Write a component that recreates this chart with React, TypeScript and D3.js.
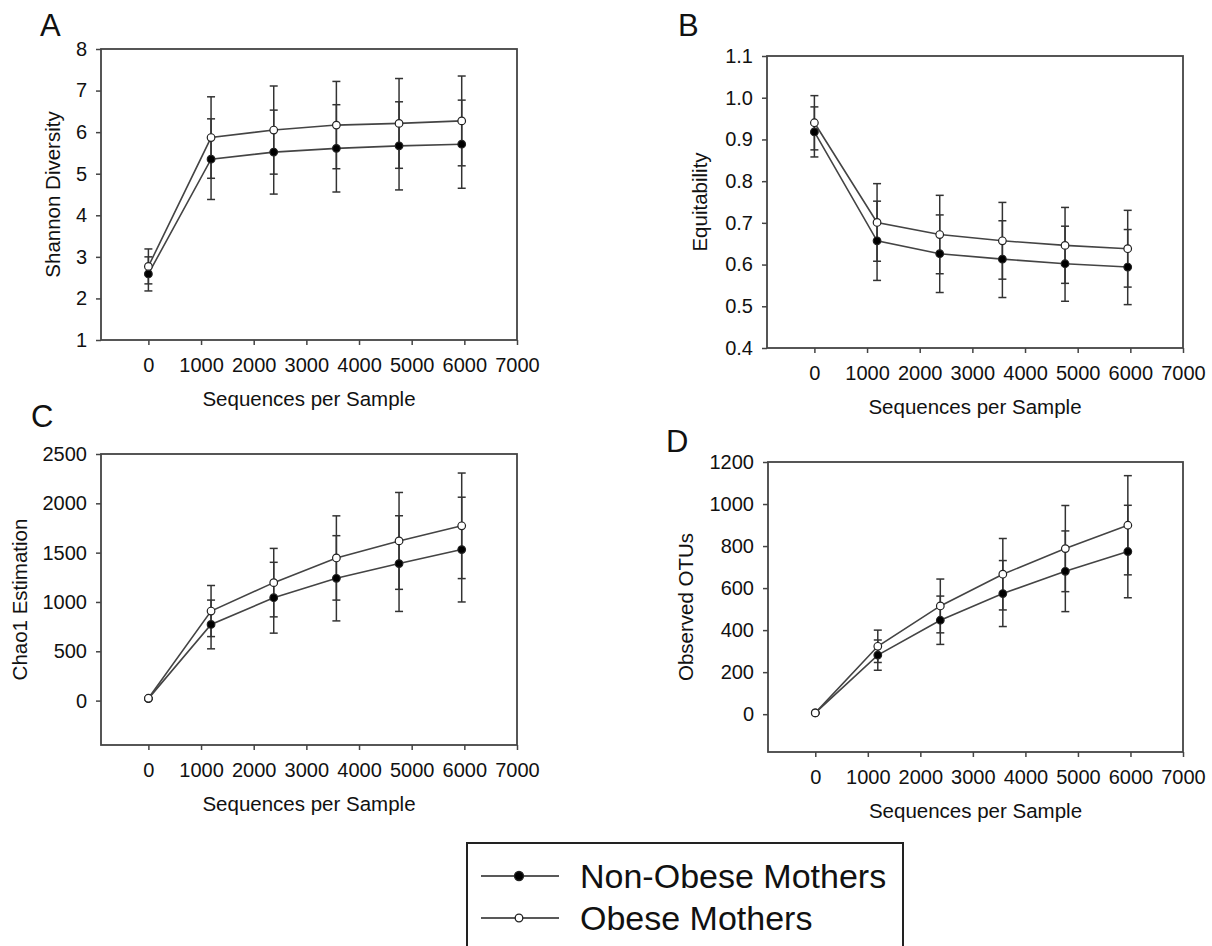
import * as d3 from 'd3';
import React, { useEffect, useRef } from 'react';

// sequences per sample (x positions of the rarefaction points)
const seqs = [0, 1190, 2380, 3570, 4760, 5950];
const xTicks = [0, 1000, 2000, 3000, 4000, 5000, 6000, 7000];

// A - Shannon diversity
const shannonObese = [2.77, 5.87, 6.05, 6.17, 6.21, 6.27];
const shannonObeseErr = [0.42, 0.98, 1.06, 1.05, 1.08, 1.08];
const shannonNonObese = [2.59, 5.35, 5.52, 5.61, 5.67, 5.71];
const shannonNonObeseErr = [0.41, 0.97, 1.01, 1.05, 1.06, 1.06];
const shannonTicks = [1, 2, 3, 4, 5, 6, 7, 8];

// B - Equitability
const equitObese = [0.94, 0.701, 0.672, 0.657, 0.646, 0.638];
const equitObeseErr = [0.065, 0.093, 0.094, 0.092, 0.091, 0.092];
const equitNonObese = [0.918, 0.657, 0.626, 0.613, 0.602, 0.594];
const equitNonObeseErr = [0.06, 0.095, 0.093, 0.092, 0.09, 0.09];
const equitTicks = [0.4, 0.5, 0.6, 0.7, 0.8, 0.9, 1.0, 1.1];

// C - Chao1
const chaoObese = [24, 908, 1196, 1446, 1619, 1772];
const chaoObeseErr = [6, 259, 347, 427, 491, 535];
const chaoNonObese = [20, 772, 1043, 1240, 1389, 1531];
const chaoNonObeseErr = [5, 247, 359, 432, 485, 531];
const chaoTicks = [0, 500, 1000, 1500, 2000, 2500];

// D - Observed OTUs
const otuObese = [6, 323, 515, 666, 788, 899];
const otuObeseErr = [2, 77, 128, 170, 205, 236];
const otuNonObese = [6, 281, 447, 574, 680, 774];
const otuNonObeseErr = [2, 72, 115, 157, 192, 220];
const otuTicks = [0, 200, 400, 600, 800, 1000, 1200];

const seriesNames = ['Non-Obese Mothers', 'Obese Mothers'];

const width = 1212;
const height = 946;
const font = "'Liberation Sans', Arial, sans-serif";
const lineColor = '#444';
const barColor = '#333';

interface Panel {
  letter: string;
  title: string;
  yDomain: [number, number];
  yTicks: number[];
  fmt: (d: number) => string;
  box: { left: number; right: number; top: number; bottom: number };
  letterPos: [number, number];
  titleX: number;
  obese: number[];
  obeseErr: number[];
  non: number[];
  nonErr: number[];
}

const panels: Panel[] = [
  {
    letter: 'A', title: 'Shannon Diversity', yDomain: [1, 8], yTicks: shannonTicks, fmt: d3.format('d'),
    box: { left: 101, right: 517, top: 49, bottom: 340 }, letterPos: [40, 36], titleX: 53,
    obese: shannonObese, obeseErr: shannonObeseErr, non: shannonNonObese, nonErr: shannonNonObeseErr,
  },
  {
    letter: 'B', title: 'Equitability', yDomain: [0.4, 1.1], yTicks: equitTicks, fmt: d3.format('.1f'),
    box: { left: 767, right: 1183, top: 56, bottom: 348 }, letterPos: [678, 36], titleX: 700,
    obese: equitObese, obeseErr: equitObeseErr, non: equitNonObese, nonErr: equitNonObeseErr,
  },
  {
    letter: 'C', title: 'Chao1 Estimation', yDomain: [-450, 2500], yTicks: chaoTicks, fmt: d3.format('d'),
    box: { left: 101, right: 517, top: 454, bottom: 745 }, letterPos: [31, 427], titleX: 20,
    obese: chaoObese, obeseErr: chaoObeseErr, non: chaoNonObese, nonErr: chaoNonObeseErr,
  },
  {
    letter: 'D', title: 'Observed OTUs', yDomain: [-180, 1200], yTicks: otuTicks, fmt: d3.format('d'),
    box: { left: 768, right: 1183, top: 462, bottom: 752 }, letterPos: [666, 452], titleX: 686,
    obese: otuObese, obeseErr: otuObeseErr, non: otuNonObese, nonErr: otuNonObeseErr,
  },
];

const App: React.FC = () => {
  const ref = useRef<SVGSVGElement>(null);

  useEffect(() => {
    const svg = d3.select(ref.current);
    svg.selectAll('*').remove();

    panels.forEach((p) => {
      const { left, right, top, bottom } = p.box;
      const x = d3.scaleLinear().domain([-900, 7000]).range([left, right]);
      const y = d3.scaleLinear().domain(p.yDomain).range([bottom, top]);
      const g = svg.append('g');

      g.append('rect')
        .attr('x', left).attr('y', top)
        .attr('width', right - left).attr('height', bottom - top)
        .attr('fill', 'none').attr('stroke', lineColor).attr('stroke-width', 1.8);

      const xAxis = g.append('g')
        .attr('transform', `translate(0,${bottom})`)
        .call(d3.axisBottom(x).tickValues(xTicks).tickSize(5).tickPadding(13).tickFormat(d3.format('d')));
      const yAxis = g.append('g')
        .attr('transform', `translate(${left},0)`)
        .call(d3.axisLeft(y).tickValues(p.yTicks).tickSize(5).tickPadding(9).tickFormat(p.fmt as any));
      [xAxis, yAxis].forEach((a) => {
        a.select('.domain').remove();
        a.selectAll('.tick line').attr('stroke', lineColor).attr('stroke-width', 1.5);
        a.selectAll('.tick text').attr('font-family', font).attr('font-size', 20).attr('fill', '#111');
      });

      g.append('text')
        .attr('x', (left + right) / 2).attr('y', bottom + 66)
        .attr('text-anchor', 'middle').attr('font-family', font).attr('font-size', 20.5).attr('fill', '#111')
        .text('Sequences per Sample');
      g.append('text')
        .attr('transform', `translate(${p.titleX},${(top + bottom) / 2}) rotate(-90)`)
        .attr('dy', '0.36em')
        .attr('text-anchor', 'middle').attr('font-family', font).attr('font-size', 20.5).attr('fill', '#111')
        .text(p.title);
      g.append('text')
        .attr('x', p.letterPos[0]).attr('y', p.letterPos[1])
        .attr('font-family', font).attr('font-size', 31).attr('fill', '#111')
        .text(p.letter);

      const series = [
        { vals: p.non, errs: p.nonErr, filled: true },
        { vals: p.obese, errs: p.obeseErr, filled: false },
      ];
      const line = d3.line<number>().x((_, i) => x(seqs[i])).y((d) => y(d));

      series.forEach((s) => {
        g.append('path').datum(s.vals)
          .attr('fill', 'none').attr('stroke', lineColor).attr('stroke-width', 1.6)
          .attr('d', line);
      });
      series.forEach((s) => {
        s.vals.forEach((v, i) => {
          const cx = x(seqs[i]);
          const y1 = y(v + s.errs[i]);
          const y0 = y(v - s.errs[i]);
          g.append('line').attr('x1', cx).attr('x2', cx).attr('y1', y1).attr('y2', y0)
            .attr('stroke', barColor).attr('stroke-width', 1.5);
          [y1, y0].forEach((yy) =>
            g.append('line').attr('x1', cx - 4).attr('x2', cx + 4).attr('y1', yy).attr('y2', yy)
              .attr('stroke', barColor).attr('stroke-width', 1.5)
          );
        });
      });
      series.forEach((s) => {
        g.selectAll(null).data(s.vals).enter().append('circle')
          .attr('cx', (_, i) => x(seqs[i])).attr('cy', (d) => y(d))
          .attr('r', 3.8)
          .attr('fill', s.filled ? '#000' : '#fff')
          .attr('stroke', '#222').attr('stroke-width', 1.2);
      });
    });

    // legend
    const lg = svg.append('g');
    lg.append('rect').attr('x', 467).attr('y', 843).attr('width', 436).attr('height', 130)
      .attr('fill', 'none').attr('stroke', '#222').attr('stroke-width', 2);
    seriesNames.forEach((name, i) => {
      const ly = 876 + i * 42;
      lg.append('line').attr('x1', 481).attr('x2', 559).attr('y1', ly).attr('y2', ly)
        .attr('stroke', '#222').attr('stroke-width', 1.6);
      lg.append('circle').attr('cx', 519).attr('cy', ly).attr('r', i === 0 ? 4.5 : 3.8)
        .attr('fill', i === 0 ? '#000' : '#fff').attr('stroke', '#222').attr('stroke-width', 1.3);
      lg.append('text').attr('x', 580).attr('y', ly + 12)
        .attr('font-family', font).attr('font-size', 34).attr('fill', '#111')
        .text(name);
    });
  }, []);

  return (
    <svg
      ref={ref}
      width={width}
      height={height}
      style={{ position: 'absolute', left: 0, top: 0, background: '#fff' }}
    ></svg>
  );
};

export default App;
